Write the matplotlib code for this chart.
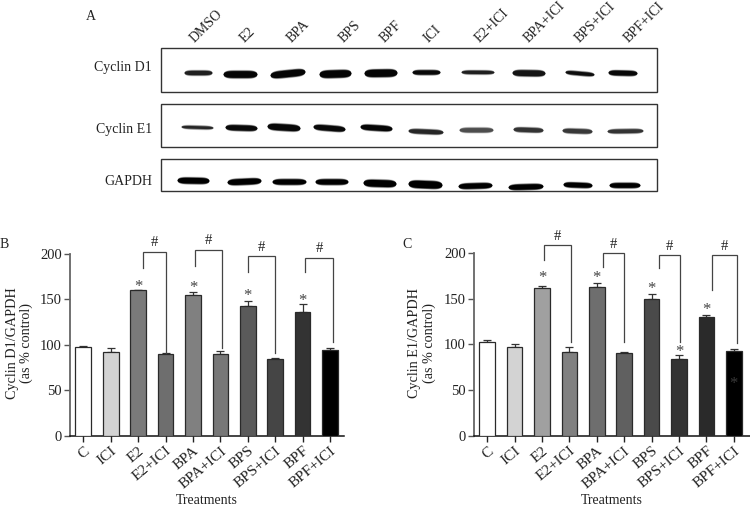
import matplotlib
matplotlib.use("Agg")
import matplotlib.pyplot as plt
from matplotlib.patches import Rectangle
from matplotlib.transforms import ScaledTranslation
import numpy as np

plt.rcParams['font.family'] = ['Liberation Serif', 'DejaVu Serif']
W, H = 750, 505
TXT = '#222222'

# ---- data: bar panels
treatments = ['C', 'ICI', 'E2', 'E2+ICI', 'BPA', 'BPA+ICI', 'BPS', 'BPS+ICI', 'BPF', 'BPF+ICI']
d1_values = [97.5, 92.5, 160, 90, 154.5, 89.5, 143, 85, 136, 94]
d1_errors = [1.5, 3.5, 0.7, 0.7, 3, 3.5, 5, 1, 8.5, 2]
e1_values = [103, 97, 161, 92, 163, 91, 150, 84, 130, 93]
e1_errors = [1.5, 3, 2.5, 5, 3.5, 1, 4.5, 4, 2, 2]
d1_colors = ['#ffffff', '#d3d3d3', '#7a7a7a', '#6e6e6e', '#808080', '#777777', '#5a5a5a', '#454545', '#333333', '#000000']
e1_colors = ['#ffffff', '#d3d3d3', '#a0a0a0', '#808080', '#6e6e6e', '#606060', '#4a4a4a', '#333333', '#2a2a2a', '#000000']
# asterisks: (bar position, height, colour)
d1_stars = [(2, 166.4, '#444444'), (4, 165, '#444444'), (6, 156.5, '#444444'), (8, 151, '#444444')]
e1_stars = [(2, 175.6, '#444444'), (4, 175.6, '#444444'), (6, 163, '#444444'), (8, 140.4, '#444444'),
            (7, 95, '#444444'), (9, 60, '#3a3a3a')]
# brackets: left x, right x, left foot, right foot, top, height of '#'
d1_brackets = [(2.18, 3.0, 184, 90.7, 201.5, 212),
               (4.09, 5.05, 187, 97, 203.7, 214.5),
               (6.01, 7.0, 179.5, 90.7, 197, 207),
               (8.10, 9.12, 180, 103.5, 195, 205.5)]
e1_brackets = [(2.06, 3.04, 191.6, 103, 208.7, 218),
               (4.23, 5.0, 184, 103, 200, 209),
               (6.27, 7.02, 183, 103, 198, 206.5),
               (8.20, 9.12, 159, 101, 198, 207)]

# ---- data: blot panel
lanes = ['DMSO', 'E2', 'BPA', 'BPS', 'BPF', 'ICI', 'E2+ICI', 'BPA+ICI', 'BPS+ICI', 'BPF+ICI']
lane_label_x = [197, 247, 294, 346, 387, 431, 482, 531, 582, 631]
proteins = ['Cyclin D1', 'Cyclin E1', 'GAPDH']
protein_label_y = [68, 129, 181.5]
# bands: left, right, y at left, y at right, thickness, gray level
d1_bands = [(184, 212, 72.5, 72.5, 5, .12), (223, 257, 74, 74, 7.5, .02), (270, 305, 75, 71.5, 7.5, .02),
            (319, 351, 74, 73, 8, .02), (364, 397, 73, 72.5, 8, .02), (412, 440, 72, 72, 5, .03),
            (461, 494, 71.8, 72, 4, .12), (512, 545, 72.5, 73, 6.5, .08), (565, 594, 71.8, 74.3, 4.2, .05),
            (608, 637, 72.3, 73, 5.5, .03)]
e1_bands = [(181, 213, 126.5, 127.5, 3.4, .15), (225, 257, 127, 128, 6, .03), (267, 300, 126, 128, 7, .03),
            (313, 345, 126.5, 129, 6, .03), (360, 392, 126.5, 128.5, 6, .02), (408, 443, 130.5, 132, 5, .15),
            (459, 493, 129.7, 129.7, 5, .3), (513, 543, 129, 130, 5, .2), (562, 592, 130.2, 131.2, 5, .22),
            (607, 643, 131, 130.5, 4.5, .2)]
g_bands = [(177, 209, 180, 180.5, 6.5, .0), (227, 261, 182, 180.5, 6.5, .0), (272, 306, 181.5, 181.5, 6, .0),
           (315, 348, 181.5, 181.5, 6, .0), (363, 396, 182.5, 183.5, 7.5, .0), (408, 442, 183.5, 184.8, 8, .0),
           (458, 492, 186, 185, 6, .0), (508, 543, 187, 186, 6, .0), (563, 592, 184.2, 185.2, 5.5, .0),
           (609, 640, 185, 185, 5.5, .0)]
blots = [d1_bands, e1_bands, g_bands]
blot_tops = [47.7, 103.7, 159.3]
blot_bottoms = [91.7, 147.3, 191]

fig = plt.figure(figsize=(W / 100, H / 100), dpi=100, facecolor='white')


def axes_px(x0, x1, ytop, ybot):
    return fig.add_axes([x0 / W, 1 - ybot / H, (x1 - x0) / W, (ybot - ytop) / H])


def bar_panel(ax, values, errors, colors, stars, brackets, xlim):
    x = np.arange(len(values))
    ax.bar(x, values, width=0.57, color=colors, edgecolor='#2a2a2a', linewidth=0.9, zorder=3)
    ax.errorbar(x, values, yerr=[np.zeros(len(errors)), errors], fmt='none', ecolor='#333333',
                elinewidth=0.9, capsize=2.9, capthick=0.9, zorder=2)
    ax.set_xlim(*xlim)
    ax.set_ylim(0, 200)
    ax.set_xticks(x)
    ax.set_xticklabels(treatments, rotation=40, ha='right', rotation_mode='anchor', fontsize=11, color=TXT)
    shift = ScaledTranslation(4 / 100, 3 / 100, fig.dpi_scale_trans)
    for lab in ax.get_xticklabels():
        lab.set_transform(lab.get_transform() + shift)
    ax.set_yticks([0, 50, 100, 150, 200])
    ax.tick_params(axis='y', length=4, width=1, color='#555555', labelsize=10.5, labelcolor=TXT, pad=2)
    ax.tick_params(axis='x', length=4, width=1, color='#222222', pad=2)
    for s in ['top', 'right']:
        ax.spines[s].set_visible(False)
    ax.spines['left'].set_color('#666666')
    ax.spines['left'].set_linewidth(1.3)
    ax.spines['bottom'].set_color('#111111')
    ax.spines['bottom'].set_linewidth(1.1)
    for xs, h, c in stars:
        ax.annotate('*', (xs, h), xytext=(0, -2), textcoords='offset points', ha='center', va='center',
                    fontsize=12, color=c, zorder=5, annotation_clip=False)
    for xl, xr, fl, fr, top, hh in brackets:
        ax.plot([xl, xl, xr, xr], [fl, top, top, fr], color='#444444', lw=0.9, clip_on=False, zorder=4,
                solid_joinstyle='miter')
        ax.text((xl + xr) / 2, hh, '#', ha='center', va='center', fontsize=10.5, color=TXT, clip_on=False)


axb = axes_px(70, 344, 253.7, 436)
bar_panel(axb, d1_values, d1_errors, d1_colors, d1_stars, d1_brackets, (-0.485, 9.51))
axc = axes_px(474.3, 750, 252.7, 436)
bar_panel(axc, e1_values, e1_errors, e1_colors, e1_stars, e1_brackets, (-0.474, 9.59))

# overlay in pixel coordinates: blot and free labels
ov = fig.add_axes([0, 0, 1, 1], facecolor='none')
ov.set_xlim(0, W)
ov.set_ylim(H, 0)
ov.axis('off')


def draw_band(l, r, yl, yr, t, g):
    """A band is a lens-like blob: full thickness in the middle, rounded at both ends."""
    u = np.linspace(0, 1, 60)
    xs = l + (r - l) * u
    ys = yl + (yr - yl) * u
    prof = np.clip(1 - np.abs(2 * u - 1) ** 5, 0, 1) ** 0.5
    ov.fill_between(xs, ys - (t / 2 + 0.9) * prof, ys + (t / 2 + 0.9) * prof, color='0.45', alpha=.28, lw=0)
    ov.fill_between(xs, ys - (t / 2 + 0.3) * prof, ys + (t / 2 + 0.3) * prof, color=str(g), alpha=.55, lw=0)
    ov.fill_between(xs, ys - (t / 2 - 0.4) * prof, ys + (t / 2 - 0.4) * prof, color=str(g), lw=0)


for bands, top, bot, name, ly in zip(blots, blot_tops, blot_bottoms, proteins, protein_label_y):
    ov.add_patch(Rectangle((160.7, top), 657.3 - 160.7, bot - top, fill=False, edgecolor='#333333', linewidth=1.0))
    for band in bands:
        draw_band(*band)
    ov.text(152, ly, name, ha='right', va='center', fontsize=10, color=TXT)

for name, x in zip(lanes, lane_label_x):
    ov.text(x, 45, name, rotation=45, ha='left', va='bottom', rotation_mode='anchor', fontsize=10, color=TXT)

ov.text(90.7, 17, 'A', ha='center', va='center', fontsize=10, color=TXT)
ov.text(4.5, 245, 'B', ha='center', va='center', fontsize=10, color=TXT)
ov.text(407, 245, 'C', ha='center', va='center', fontsize=10, color=TXT)
for xc, txt in [(19.5, 'Cyclin D1/GAPDH\n(as % control)'), (422, 'Cyclin E1/GAPDH\n(as % control)')]:
    ov.text(xc, 343, txt, rotation=90, ha='center', va='center', multialignment='center', fontsize=10.2,
            color=TXT, linespacing=1.12)
for xc in (207, 612):
    ov.text(xc, 500, 'Treatments', ha='center', va='center', fontsize=10, color=TXT)

fig.savefig('out.png', dpi=100)
